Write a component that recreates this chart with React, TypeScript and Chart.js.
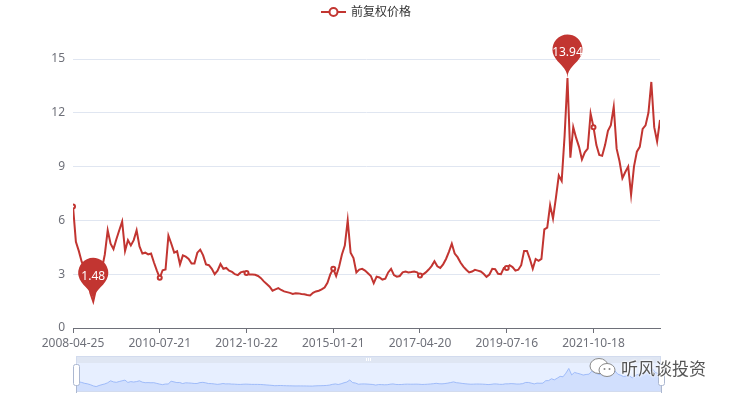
import React, { useEffect, useRef } from 'react';
import { Chart, registerables } from 'chart.js';

Chart.register(...registerables);

const seriesName = '前复权价格';
const watermark = '听风谈投资';
const tickLabels = ['2008-04-25', '2010-07-21', '2012-10-22', '2015-01-21', '2017-04-20', '2019-07-16', '2021-10-18'];
const tickEvery = 30;
const yMax = 15;
const yStep = 3;

const prices = [
  6.78, 4.8, 4.3, 3.7, 3.35, 2.75, 1.95, 1.48, 2.2, 2.8,
  3.3, 4.1, 5.45, 4.7, 4.4, 4.95, 5.45, 5.94, 4.3, 4.9,
  4.6, 4.9, 5.45, 4.55, 4.15, 4.2, 4.1, 4.15, 3.65, 3.2,
  2.8, 3.22, 3.26, 5.15, 4.7, 4.2, 4.28, 3.55, 4.05, 3.98,
  3.85, 3.6, 3.6, 4.2, 4.37, 4.05, 3.55, 3.5, 3.3, 3.0,
  3.2, 3.57, 3.3, 3.35, 3.2, 3.13, 3.0, 2.95, 3.1, 3.15,
  3.07, 2.98, 2.98, 2.97, 2.9, 2.78, 2.6, 2.45, 2.3, 2.08,
  2.15, 2.22, 2.12, 2.04, 2.0, 1.96, 1.9, 1.94, 1.93, 1.9,
  1.88, 1.84, 1.81, 1.96, 2.04, 2.08, 2.15, 2.26, 2.52, 3.0,
  3.3, 2.9, 3.4, 4.1, 4.6, 6.0, 4.2, 3.9, 3.1, 3.26,
  3.3, 3.2, 3.05, 2.9, 2.5, 2.86, 2.82, 2.7, 2.75, 3.1,
  3.3, 2.95, 2.86, 2.9, 3.1, 3.15, 3.1, 3.12, 3.15, 3.1,
  2.93, 2.98, 3.1, 3.26, 3.45, 3.72, 3.44, 3.35, 3.55, 3.85,
  4.25, 4.7, 4.15, 3.95, 3.65, 3.42, 3.25, 3.1, 3.15, 3.24,
  3.2, 3.15, 3.02, 2.85, 2.98, 3.3, 3.28, 3.02, 3.0, 3.35,
  3.35, 3.5, 3.4, 3.2, 3.25, 3.5, 4.3, 4.3, 3.85, 3.3,
  3.85, 3.75, 3.85, 5.5, 5.6, 6.85, 6.1, 7.25, 8.5, 8.2,
  10.7, 13.94, 9.5, 11.2, 10.6, 10.1, 9.4, 9.8, 10.0, 11.96,
  11.2, 10.2, 9.65, 9.6, 10.2, 11.0, 11.31, 12.33, 10.0, 9.3,
  8.35, 8.7, 9.0, 7.43, 9.0, 9.83, 10.1, 11.1, 11.3, 12.0,
  13.72, 11.2, 10.4, 11.6,
];

const RED = '#c23531';
const FONT = '"Microsoft YaHei", "Noto Sans", "Noto Sans CJK SC", sans-serif';

function drawPin(ctx: CanvasRenderingContext2D, x: number, y: number, text: string) {
  const h = 50;
  const w = 30;
  const r = w / 2;
  const dy = (r * r) / (h - r);
  const cy = y - h + r + dy;
  const angle = Math.asin(dy / r);
  const dx = Math.cos(angle) * r;
  const tanX = Math.sin(angle);
  const tanY = Math.cos(angle);
  const cpLen = r * 0.6;
  const cpLen2 = r * 0.7;
  ctx.save();
  ctx.beginPath();
  ctx.moveTo(x - dx, cy + dy);
  ctx.arc(x, cy, r, Math.PI - angle, Math.PI * 2 + angle);
  ctx.bezierCurveTo(x + dx - tanX * cpLen, cy + dy + tanY * cpLen, x, y - cpLen2, x, y);
  ctx.bezierCurveTo(x, y - cpLen2, x - dx + tanX * cpLen, cy + dy + tanY * cpLen, x - dx, cy + dy);
  ctx.closePath();
  ctx.fillStyle = RED;
  ctx.fill();
  ctx.fillStyle = '#fff';
  ctx.font = `12px ${FONT}`;
  ctx.textAlign = 'center';
  ctx.textBaseline = 'middle';
  ctx.fillText(text, x, y - h / 2);
  ctx.restore();
}

const markPointPlugin = {
  id: 'markPoints',
  afterDatasetsDraw(chart: any) {
    const data = chart.data.datasets[0].data as { x: number; y: number }[];
    let maxI = 0;
    let minI = 0;
    data.forEach((p, i) => {
      if (p.y > data[maxI].y) maxI = i;
      if (p.y < data[minI].y) minI = i;
    });
    const xs = chart.scales.x;
    const ys = chart.scales.y;
    const ctx = chart.ctx;
    [maxI, minI].forEach((i) => {
      drawPin(ctx, xs.getPixelForValue(data[i].x), ys.getPixelForValue(data[i].y), String(data[i].y));
    });
  },
};

const legendPlugin = {
  id: 'customLegend',
  afterDraw(chart: any) {
    const ctx = chart.ctx;
    const label = chart.data.datasets[0].label;
    ctx.save();
    ctx.font = `12px ${FONT}`;
    const tw = ctx.measureText(label).width;
    const total = 25 + 5 + tw;
    const x0 = Math.round((chart.width - total) / 2);
    const cy = 12;
    ctx.strokeStyle = RED;
    ctx.lineWidth = 2;
    ctx.beginPath();
    ctx.moveTo(x0, cy);
    ctx.lineTo(x0 + 25, cy);
    ctx.stroke();
    ctx.beginPath();
    ctx.arc(x0 + 12.5, cy, 4, 0, Math.PI * 2);
    ctx.fillStyle = '#fff';
    ctx.fill();
    ctx.stroke();
    ctx.fillStyle = '#333';
    ctx.textAlign = 'left';
    ctx.textBaseline = 'middle';
    ctx.fillText(label, x0 + 30, cy + 1);
    ctx.restore();
  },
};

const sliderPlugin = {
  id: 'sliderFrame',
  beforeDatasetsDraw(chart: any) {
    const { left, right, top, bottom } = chart.chartArea;
    const ctx = chart.ctx;
    ctx.save();
    ctx.fillStyle = 'rgba(135,175,255,0.2)';
    ctx.fillRect(left, top, right - left, bottom - top);
    ctx.fillStyle = 'rgba(210,219,238,0.7)';
    ctx.fillRect(left, top - 7, right - left, 7);
    const mid = (left + right) / 2;
    ctx.fillStyle = '#fff';
    [-2, 0, 2].forEach((o) => ctx.fillRect(mid + o - 0.5, top - 5, 1, 3));
    ctx.restore();
  },
  afterDraw(chart: any) {
    const { left, right, top, bottom } = chart.chartArea;
    const ctx = chart.ctx;
    ctx.save();
    ctx.strokeStyle = '#d2dbee';
    ctx.lineWidth = 1;
    ctx.strokeRect(left + 0.5, top - 6.5, right - left - 1, bottom - top + 6);
    [left, right].forEach((hx) => {
      ctx.strokeStyle = '#ACB8D1';
      ctx.beginPath();
      ctx.moveTo(Math.round(hx) + 0.5, bottom - 6);
      ctx.lineTo(Math.round(hx) + 0.5, bottom + 1);
      ctx.stroke();
      ctx.fillStyle = '#fff';
      ctx.beginPath();
      ctx.roundRect(Math.round(hx) - 2.5, top + 1.5, 6, 21, 2);
      ctx.fill();
      ctx.stroke();
    });
    ctx.restore();
  },
};

export default function App() {
  const mainRef = useRef<HTMLCanvasElement | null>(null);
  const sliderRef = useRef<HTMLCanvasElement | null>(null);

  useEffect(() => {
    Chart.defaults.font.family = FONT;
    const points = prices.map((v, i) => ({ x: i, y: v }));
    const main = new Chart(mainRef.current as HTMLCanvasElement, {
      type: 'line',
      data: {
        datasets: [
          {
            label: seriesName,
            data: points,
            borderColor: RED,
            borderWidth: 2,
            tension: 0,
            fill: false,
            pointRadius: (c: any) => (c.dataIndex % tickEvery === 0 ? 2 : 0),
            pointBorderWidth: 2,
            pointBackgroundColor: '#fff',
            pointBorderColor: RED,
          },
        ],
      },
      options: {
        responsive: false,
        animation: false,
        events: [],
        layout: { padding: { left: 0, right: 73, top: 59, bottom: 50 } },
        plugins: { legend: { display: false }, tooltip: { enabled: false } },
        scales: {
          x: {
            type: 'linear',
            min: 0,
            max: prices.length - 1,
            afterFit: (s: any) => {
              s.height = 22;
            },
            ticks: {
              stepSize: tickEvery,
              includeBounds: false,
              autoSkip: false,
              maxRotation: 0,
              padding: 3,
              color: '#6E7079',
              font: { size: 12 },
              callback: (v: any) => (Number(v) % tickEvery === 0 ? tickLabels[Number(v) / tickEvery] ?? '' : ''),
            },
            grid: { drawOnChartArea: false, drawTicks: true, tickLength: 5, color: '#6E7079' },
            border: { display: true, color: '#6E7079', width: 1 },
          },
          y: {
            min: 0,
            max: yMax,
            afterFit: (s: any) => {
              s.width = 73;
            },
            ticks: { stepSize: yStep, padding: 8, color: '#6E7079', font: { size: 12 } },
            grid: { color: '#E0E6F1', drawTicks: false },
            border: { display: false },
          },
        },
      } as any,
      plugins: [markPointPlugin, legendPlugin],
    });

    const lo = Math.min(...prices);
    const hi = Math.max(...prices);
    const off = (hi - lo) * 0.3;
    const slider = new Chart(sliderRef.current as HTMLCanvasElement, {
      type: 'line',
      data: {
        datasets: [
          {
            data: points,
            borderColor: '#8fb0f7',
            borderWidth: 0.8,
            backgroundColor: 'rgba(143,176,247,0.25)',
            fill: 'start',
            pointRadius: 0,
            tension: 0,
          },
        ],
      },
      options: {
        responsive: false,
        animation: false,
        events: [],
        layout: { padding: { left: 76, right: 72, top: 363, bottom: 8 } },
        plugins: { legend: { display: false }, tooltip: { enabled: false } },
        scales: {
          x: { type: 'linear', display: false, min: 0, max: prices.length - 1 },
          y: { display: false, min: lo - off, max: hi + off },
        },
      } as any,
      plugins: [sliderPlugin],
    });

    return () => {
      main.destroy();
      slider.destroy();
    };
  }, []);

  return (
    <div style={{ position: 'absolute', left: 0, top: 0, width: 733, height: 400, background: '#fff', overflow: 'hidden' }}>
      <canvas ref={mainRef} width={733} height={400} style={{ position: 'absolute', left: 0, top: 0 }} />
      <canvas ref={sliderRef} width={733} height={400} style={{ position: 'absolute', left: 0, top: 0 }} />
      <div
        style={{
          position: 'absolute',
          left: 588,
          top: 356,
          display: 'flex',
          alignItems: 'center',
          pointerEvents: 'none',
        }}
      >
        <svg width="30" height="24" viewBox="0 0 30 24">
          <ellipse cx="11" cy="10" rx="9" ry="7.5" fill="#fff" stroke="#888" strokeWidth="1" />
          <ellipse cx="19" cy="14" rx="8" ry="6.5" fill="#fff" stroke="#888" strokeWidth="1" />
          <circle cx="16.5" cy="13" r="1" fill="#888" />
          <circle cx="21.5" cy="13" r="1" fill="#888" />
        </svg>
        <span
          style={{
            fontFamily: '"Noto Sans CJK SC", sans-serif',
            fontSize: 17,
            color: '#555',
            marginLeft: 3,
            lineHeight: '24px',
            textShadow: '0 0 2px #fff, 0 0 2px #fff, 0 0 3px #fff',
          }}
        >
          {watermark}
        </span>
      </div>
    </div>
  );
}
